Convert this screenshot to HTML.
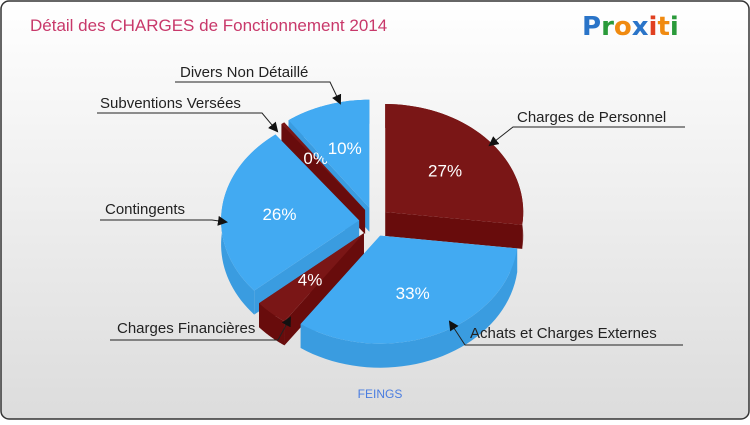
<!DOCTYPE html>
<html><head><meta charset="utf-8"><style>
html,body{margin:0;padding:0;}
body{width:750px;height:420px;overflow:hidden;font-family:"Liberation Sans",sans-serif;}
</style></head><body>
<svg width="750" height="420" viewBox="0 0 750 420">
<defs>
<linearGradient id="bg" x1="0" y1="0" x2="0" y2="1"><stop offset="0" stop-color="#ffffff"/><stop offset="1" stop-color="#dcdcdc"/></linearGradient>
<marker id="arr" markerWidth="10" markerHeight="10" refX="8" refY="5" orient="auto" markerUnits="userSpaceOnUse"><path d="M0,0 L10,5 L0,10 z" fill="#111"/></marker>
</defs>
<rect x="1" y="1" width="748" height="418" rx="8" fill="url(#bg)" stroke="#333" stroke-width="1.5"/>
<text x="30" y="31" font-size="17" fill="#c8386a">Détail des CHARGES de Fonctionnement 2014</text>
<g font-size="26" font-weight="bold" font-family="'DejaVu Sans',sans-serif">
<text x="582" y="35"><tspan fill="#2a74c8">P</tspan><tspan fill="#2a9a3a">r</tspan><tspan fill="#f08a10">o</tspan><tspan fill="#2a74c8">x</tspan><tspan fill="#e04020">i</tspan><tspan fill="#f08a10">t</tspan><tspan fill="#2a9a3a">i</tspan></text>
</g>
<g id="pie"></g>
<g id="labels" font-size="15" fill="#222"></g>
<text x="380" y="398" font-size="12" fill="#4a7de0" text-anchor="middle">FEINGS</text>
</svg>
<script>
const categories=["Charges de Personnel","Achats et Charges Externes","Charges Financières","Contingents","Subventions Versées","Divers Non Détaillé"];
const values=[27,33,4,26,0.4,10];
const pctLabels=["27%","33%","4%","26%","0%","10%"];
const colors=["#7a1616","#42aaf2","#7a1616","#42aaf2","#7a1616","#42aaf2"];
const sideColors=["#680c0c","#3a9ce0","#680c0c","#3a9ce0","#680c0c","#3a9ce0"];
const cx=374,cy=222,rx=138,ry=108,depth=24,explode=15;
const NS="http://www.w3.org/2000/svg";
const pie=document.getElementById('pie');
const total=values.reduce((a,b)=>a+b,0);
function pt(x,y,a,k){return [x+rx*k*Math.cos(a),y+ry*k*Math.sin(a)];}
let start=-Math.PI/2;
const slices=[];
values.forEach((v,i)=>{const sw=v/total*2*Math.PI;const mid=start+sw/2;
 slices.push({i,a0:start,a1:start+sw,mid,ox:explode*Math.cos(mid),oy:explode*Math.sin(mid)});start+=sw;});
function mk(tag,attrs){const e=document.createElementNS(NS,tag);for(const k in attrs)e.setAttribute(k,attrs[k]);return e;}
const order=slices.slice().sort((a,b)=>Math.sin(a.mid)-Math.sin(b.mid));
order.forEach(s=>{const x=cx+s.ox,y=cy+s.oy;
 const walls=[];
 [s.a0,s.a1].forEach(a=>{const p=pt(x,y,a,1);walls.push(`M${x},${y} L${p[0]},${p[1]} L${p[0]},${p[1]+depth} L${x},${y+depth} Z`);});
 const N=40;const pts=[];for(let k=0;k<=N;k++){const a=s.a0+(s.a1-s.a0)*k/N;pts.push(pt(x,y,a,1));}
 const d='M'+pts.map(p=>p[0]+','+p[1]).join(' L')+' L'+pts.slice().reverse().map(p=>p[0]+','+(p[1]+depth)).join(' L')+' Z';
 walls.forEach(w=>{const e=mk('path',{d:w,fill:sideColors[s.i]});
  
  pie.appendChild(e);});
 const e=mk('path',{d,fill:sideColors[s.i]});
 
 pie.appendChild(e);
});
slices.forEach(s=>{const x=cx+s.ox,y=cy+s.oy;const N=40;let d=`M${x},${y}`;
 for(let k=0;k<=N;k++){const a=s.a0+(s.a1-s.a0)*k/N;const p=pt(x,y,a,1);d+=` L${p[0]},${p[1]}`;}d+=' Z';
 const e=mk('path',{d,fill:colors[s.i]});
 
 pie.appendChild(e);
 const lp=pt(x,y,s.mid,s.i===4?0.6:0.58);
 const t=mk('text',{x:lp[0],y:lp[1]+6,'text-anchor':'middle','font-size':'17',fill:'#fff'});t.textContent=pctLabels[s.i];
 
 pie.appendChild(t);
});
const lab=document.getElementById('labels');
const L=[
 {t:0,x:517,y:122,l:[[685,127],[513,127],[490,145]]},
 {t:1,x:470,y:338,l:[[683,345],[465,345],[450,322]]},
 {t:2,x:117,y:333,l:[[110,340],[278,340],[290,318]]},
 {t:3,x:105,y:214,l:[[100,220],[212,220],[226,222]]},
 {t:4,x:100,y:108,l:[[97,113],[262,113],[277,131]]},
 {t:5,x:180,y:77,l:[[175,82],[330,82],[340,103]]}];
L.forEach(o=>{const t=mk('text',{x:o.x,y:o.y});t.textContent=categories[o.t];
 
 lab.appendChild(t);
 const p=mk('polyline',{points:o.l.map(q=>q.join(',')).join(' '),fill:'none',stroke:'#222','stroke-width':'1','marker-end':'url(#arr)'});
 
 lab.appendChild(p);});
</script>
</body></html>
